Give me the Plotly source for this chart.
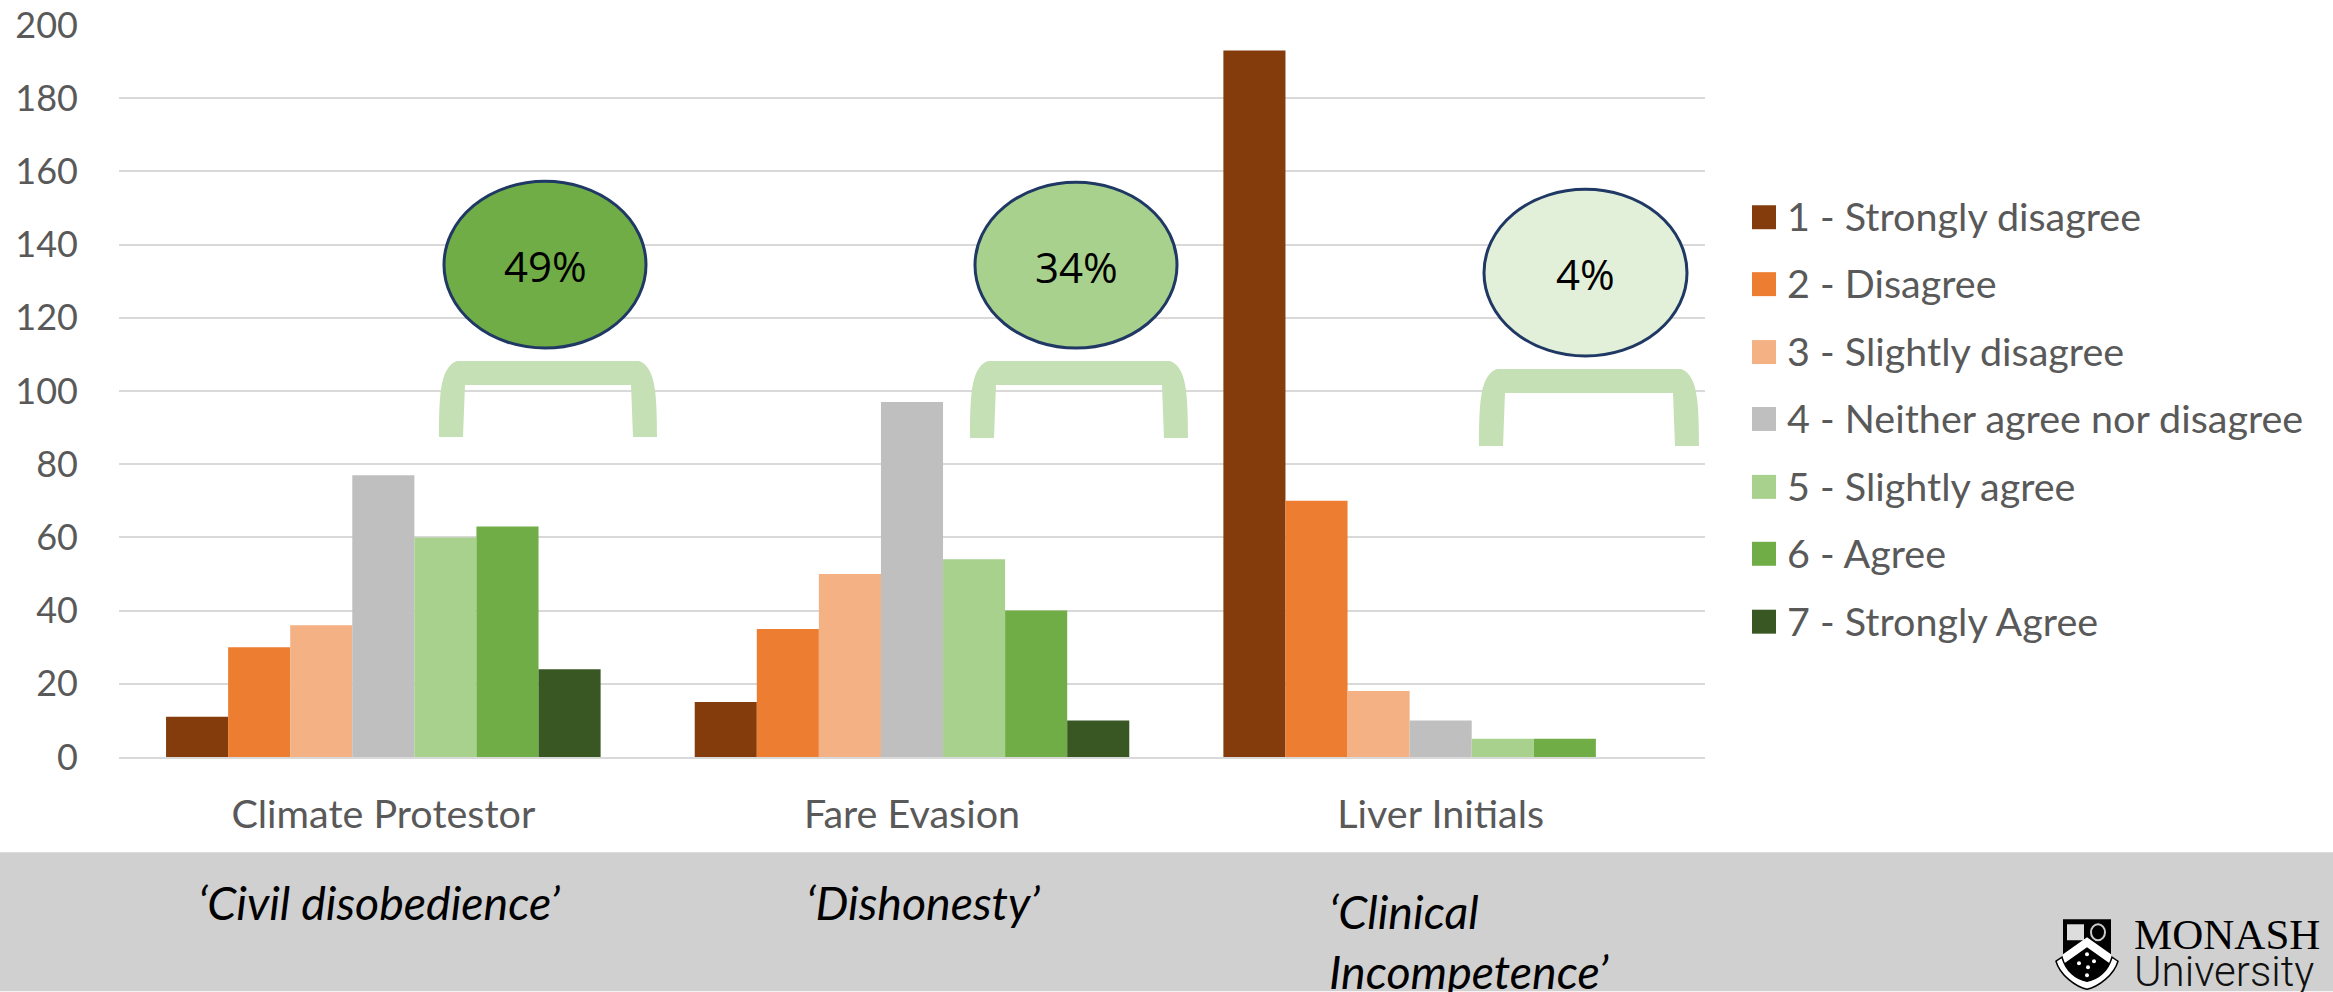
import plotly.graph_objects as go

categories = ["Climate Protestor", "Fare Evasion", "Liver Initials"]
series_names = ["1 - Strongly disagree", "2 - Disagree", "3 - Slightly disagree",
                "4 - Neither agree nor disagree", "5 - Slightly agree", "6 - Agree", "7 - Strongly Agree"]
strongly_disagree = [11, 15, 193]
disagree = [30, 35, 70]
slightly_disagree = [36, 50, 18]
neither = [77, 97, 10]
slightly_agree = [60, 54, 5]
agree = [63, 40, 5]
strongly_agree = [24, 10, 0]
all_series = [strongly_disagree, disagree, slightly_disagree, neither, slightly_agree, agree, strongly_agree]
colors = ["#843C0C", "#ED7D31", "#F4B183", "#BFBFBF", "#A9D18E", "#70AD47", "#385723"]
y_ticks = list(range(0, 201, 20))
percent_labels = ["49%", "34%", "4%"]
bubble_fills = ["#70AD47", "#A9D18E", "#E2F0D9"]
themes = ["‘Civil disobedience’", "‘Dishonesty’", "‘Clinical<br>Incompetence’"]

W, H = 2333, 992
L, R, T, B = 119, 1705, 24.5, 757.5
FONT = "Lato"
GREY = "#595959"

def px(x): return (x - L) / (R - L)
def py(y): return (B - y) / (B - T)
def P(x, y): return f"{px(x):.5f},{py(y):.5f}"

fig = go.Figure()
for name, vals, c in zip(series_names, all_series, colors):
    fig.add_bar(name=name, x=categories, y=vals, marker=dict(color=c, line_width=0), showlegend=False)

shapes, ann = [], []
def paper_shape(**k):
    shapes.append(dict(xref="paper", yref="paper", **k))

# grey footer band
paper_shape(type="rect", x0=px(0), x1=px(W), y0=py(853), y1=py(H), fillcolor="#D0D0D0", line_width=0, layer="below")

def bracket(x0, x1, top, bot):
    t = 24
    d = (f"M {P(x0, bot)} C {P(x0, top+30)} {P(x0+2, top+6)} {P(x0+18, top)} "
         f"L {P(x1-18, top)} C {P(x1-2, top+6)} {P(x1, top+30)} {P(x1, bot)} "
         f"L {P(x1-24, bot)} L {P(x1-26, top+t)} L {P(x0+26, top+t)} L {P(x0+24, bot)} Z")
    paper_shape(type="path", path=d, fillcolor="#C5E0B4", line_width=0)

bubbles = [(444, 646, 181, 348), (975, 1177, 182, 348), (1484, 1687, 189, 356)]
brackets = [(439, 657, 361, 437), (970, 1188, 361, 438), (1479, 1699, 369, 446)]
for (x0, x1, y0, y1), br, lab, fc in zip(bubbles, brackets, percent_labels, bubble_fills):
    bracket(*br)
    paper_shape(type="circle", x0=px(x0), x1=px(x1), y0=py(y1), y1=py(y0), fillcolor=fc,
                line=dict(color="#1F3864", width=3))
    ann.append(dict(xref="paper", yref="paper", x=px((x0 + x1) / 2), y=py((y0 + y1) / 2 + 1), text=lab, showarrow=False,
                    font=dict(family="Open Sans", size=42, color="#000000"), xanchor="center", yanchor="middle"))

# legend
leg_y = [217, 284, 352, 419, 487, 554, 622]
for name, c, yy in zip(series_names, colors, leg_y):
    paper_shape(type="rect", x0=px(1752), x1=px(1776), y0=py(yy - 12), y1=py(yy + 12), fillcolor=c, line_width=0)
    ann.append(dict(xref="paper", yref="paper", x=px(1785), y=py(yy - 1.5), text=name, showarrow=False,
                    font=dict(family=FONT, size=39.5, color=GREY), xanchor="left", yanchor="middle"))

# italic theme captions
theme_pos = [(196, 903), (804, 903), (1327, 942)]
for t, (x, y) in zip(themes, theme_pos):
    ann.append(dict(xref="paper", yref="paper", x=px(x), y=py(y), text=f"<i>{t}</i>", showarrow=False, align="left",
                    font=dict(family=FONT, size=46.5, color="#000000"), xanchor="left", yanchor="middle"))

# Monash logo
d = (f"M {P(2063,920)} L {P(2111,920)} L {P(2111,958)} C {P(2111,972)} {P(2098,980)} {P(2087,986)} "
     f"C {P(2076,980)} {P(2063,972)} {P(2063,958)} Z")
paper_shape(type="path", path=d, fillcolor="#000000", line_width=0)
d = (f"M {P(2063,955)} L {P(2087,938)} L {P(2111,955)} L {P(2111,965)} L {P(2087,948)} L {P(2063,965)} Z")
paper_shape(type="path", path=d, fillcolor="#FFFFFF", line_width=0)
paper_shape(type="rect", x0=px(2067), x1=px(2084), y0=py(941), y1=py(925), fillcolor="#DDDDDD", line_width=0)
paper_shape(type="circle", x0=px(2091), x1=px(2105), y0=py(941), y1=py(925), fillcolor="#000000", line=dict(color="#CCCCCC", width=2))
for cx, cy in [(2087, 955), (2079, 964), (2094, 962), (2088, 968), (2087, 976)]:
    paper_shape(type="circle", x0=px(cx - 2), x1=px(cx + 2), y0=py(cy + 2), y1=py(cy - 2), fillcolor="#FFFFFF", line_width=0)
d = (f"M {P(2056,962)} L {P(2062,958)} C {P(2066,972)} {P(2076,980)} {P(2087,982)} C {P(2098,980)} {P(2108,972)} {P(2112,958)} "
     f"L {P(2118,962)} C {P(2114,976)} {P(2098,988)} {P(2087,990)} C {P(2076,988)} {P(2060,976)} {P(2056,962)} Z")
paper_shape(type="path", path=d, fillcolor="#FFFFFF", line=dict(color="#000000", width=1.5))
ann.append(dict(xref="paper", yref="paper", x=px(2132), y=py(935), text="MONASH", showarrow=False,
                font=dict(family="Liberation Serif", size=43, color="#000000"), xanchor="left", yanchor="middle"))
ann.append(dict(xref="paper", yref="paper", x=px(2132), y=py(972), text="University", showarrow=False,
                font=dict(family="Roboto", size=42, weight=300, color="#111111"), xanchor="left", yanchor="middle"))

fig.update_layout(
    width=W, height=H, margin=dict(l=L, r=W - R, t=T, b=H - B, pad=0, autoexpand=False),
    paper_bgcolor="#FFFFFF", plot_bgcolor="#FFFFFF",
    barmode="group", bargap=0.178, bargroupgap=0,
    shapes=shapes, annotations=ann,
    font=dict(family=FONT, color=GREY),
    xaxis=dict(automargin=False, showgrid=False, showline=True, linecolor="#D9D9D9", linewidth=2, ticks="",
               tickfont=dict(family=FONT, size=39.5, color=GREY), ticklabelstandoff=22),
    yaxis=dict(automargin=False, range=[0, 200], tickvals=y_ticks, showgrid=True, gridcolor="#D9D9D9", gridwidth=2,
               zeroline=False, showline=False, ticks="",
               tickfont=dict(family=FONT, size=36, color=GREY), ticklabelstandoff=40),
)
fig.write_html("out.html", config={"displayModeBar": False}, post_script="document.body.style.margin='0';")
